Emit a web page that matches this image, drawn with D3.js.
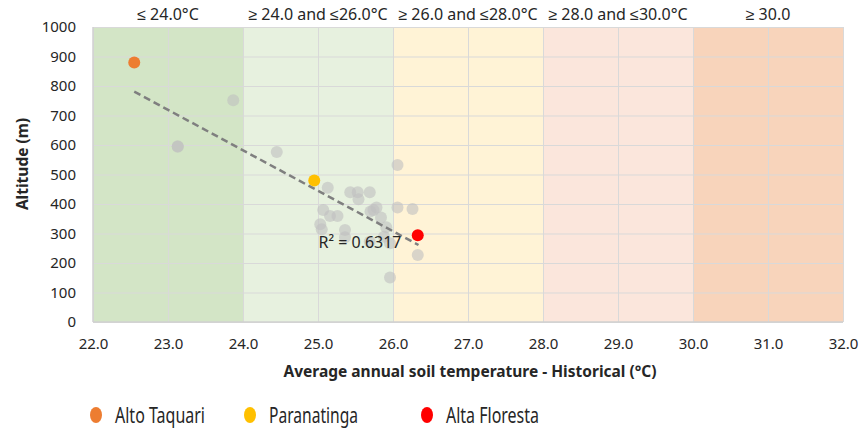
<!DOCTYPE html>
<html>
<head>
<meta charset="utf-8">
<script src="https://cdn.jsdelivr.net/npm/d3@7"></script>
<style>
  body { margin: 0; background: #fff; }
  text { font-family: "Noto Sans", sans-serif; fill: #262626; }
</style>
</head>
<body>
<script>
// temperature bands across the plot
const bandStart = [22, 24, 26, 28, 30];
const bandEnd = [24, 26, 28, 30, 32];
const bandLabels = ["≤ 24.0°C", "≥ 24.0 and ≤26.0°C", "≥ 26.0 and ≤28.0°C", "≥ 28.0 and ≤30.0°C", "≥ 30.0"];
const bandColors = ["#d3e5c6", "#e7f1df", "#fff3d6", "#fbe6dc", "#f8d4bb"];

// other municipalities (grey)
const otherTemp = [23.13, 23.13, 23.87, 24.45, 26.06, 25.13, 25.43, 25.53, 25.69, 25.54, 25.78, 25.70, 25.74,
  26.06, 26.26, 25.07, 25.16, 25.26, 25.84, 25.03, 25.05, 25.36, 25.36, 25.91, 25.88, 25.69, 25.96, 26.33, 25.96];
const otherAlt = [596, 594, 752, 576, 532, 455, 440, 440, 440, 416, 388, 375, 380,
  388, 383, 380, 359, 359, 354, 331, 314, 312, 287, 321, 289, 272, 267, 227, 151];

// highlighted municipalities
const namedSites = ["Alto Taquari", "Paranatinga", "Alta Floresta"];
const namedTemp = [22.55, 24.95, 26.33];
const namedAlt = [880, 480, 294];
const namedColors = ["#ed7d31", "#ffc000", "#ff0000"];

// linear trend line ends
const trendTemp = [22.55, 26.34];
const trendAlt = [781, 261];

const xTicks = [22, 23, 24, 25, 26, 27, 28, 29, 30, 31, 32];
const yTicks = [0, 100, 200, 300, 400, 500, 600, 700, 800, 900, 1000];

const svg = d3.select("body").append("svg")
    .attr("width", 860)
    .attr("height", 430);

const x = d3.scaleLinear().domain([22, 32]).range([93, 843]);
const y = d3.scaleLinear().domain([0, 1000]).range([322, 27]);

// bands
svg.selectAll("rect.band")
  .data(bandStart)
  .enter()
    .append("rect")
    .attr("class", "band")
    .attr("x", d => x(d))
    .attr("y", y(1000))
    .attr("width", (d, i) => x(bandEnd[i]) - x(d))
    .attr("height", y(0) - y(1000))
    .style("fill", (d, i) => bandColors[i]);

svg.selectAll("text.bandLabel")
  .data(bandLabels)
  .enter()
    .append("text")
    .attr("class", "bandLabel")
    .attr("x", (d, i) => x((bandStart[i] + bandEnd[i]) / 2))
    .attr("y", 20)
    .attr("text-anchor", "middle")
    .style("font-size", "16px")
    .text(d => d);

// grid
const yAxis = d3.axisLeft(y).tickValues(yTicks).tickFormat(d3.format("d"))
    .tickSize(-(x(32) - x(22))).tickPadding(17);
svg.append("g")
    .attr("class", "yAxis")
    .attr("transform", `translate(${x(22)}, 0)`)
    .call(yAxis);

const xAxis = d3.axisBottom(x).tickValues(xTicks).tickFormat(d3.format(".1f"))
    .tickSize(-(y(0) - y(1000))).tickPadding(16);
svg.append("g")
    .attr("class", "xAxis")
    .attr("transform", `translate(0, ${y(0)})`)
    .call(xAxis);

svg.selectAll(".tick line").style("stroke", "#d9d9d9").style("stroke-width", 1);
svg.selectAll(".domain").remove();
svg.selectAll(".tick text").style("font-size", "15px").style("fill", "#262626")
    .style("font-family", "'Noto Sans', sans-serif");

// plot frame
svg.append("line")
    .attr("x1", x(22)).attr("x2", x(22))
    .attr("y1", y(0)).attr("y2", y(1000))
    .style("stroke", "#d0d0d0").style("stroke-width", 1.5);
svg.append("line")
    .attr("x1", x(22)).attr("x2", x(32))
    .attr("y1", y(0)).attr("y2", y(0))
    .style("stroke", "#d0d0d0").style("stroke-width", 1.5);

// grey points
svg.selectAll("circle.other")
  .data(otherTemp)
  .enter()
    .append("circle")
    .attr("class", "other")
    .attr("cx", d => x(d))
    .attr("cy", (d, i) => y(otherAlt[i]))
    .attr("r", 6)
    .style("fill", "#bfbfbf")
    .style("opacity", 0.6);

// trend line
svg.append("line")
    .attr("x1", x(trendTemp[0])).attr("y1", y(trendAlt[0]))
    .attr("x2", x(trendTemp[1])).attr("y2", y(trendAlt[1]))
    .style("stroke", "#7f7f7f")
    .style("stroke-width", 2.5)
    .style("stroke-dasharray", "7,4");

svg.append("text")
    .attr("x", 360)
    .attr("y", 248)
    .attr("text-anchor", "middle")
    .style("font-size", "16px")
    .text("R² = 0.6317");

// named points
svg.selectAll("circle.named")
  .data(namedTemp)
  .enter()
    .append("circle")
    .attr("class", "named")
    .attr("cx", d => x(d))
    .attr("cy", (d, i) => y(namedAlt[i]))
    .attr("r", 6)
    .style("fill", (d, i) => namedColors[i]);

// axis titles
svg.append("text")
    .attr("x", 470)
    .attr("y", 377)
    .attr("text-anchor", "middle")
    .style("font-size", "15.5px")
    .style("font-weight", "bold")
    .text("Average annual soil temperature - Historical (°C)");

svg.append("text")
    .attr("transform", "translate(28, 164) rotate(-90)")
    .attr("text-anchor", "middle")
    .style("font-size", "15.5px")
    .style("font-weight", "bold")
    .text("Altitude (m)");

// legend
const legendX = [96, 250, 427];
const legendW = [90, 89, 93];
const legend = svg.selectAll("g.legend")
  .data(namedSites)
  .enter()
    .append("g")
    .attr("class", "legend")
    .attr("transform", (d, i) => `translate(${legendX[i]}, 415)`);

legend.append("ellipse")
    .attr("rx", 6).attr("ry", 8)
    .style("fill", (d, i) => namedColors[i]);

legend.append("text")
    .attr("x", 19)
    .attr("y", 8)
    .attr("textLength", (d, i) => legendW[i])
    .attr("lengthAdjust", "spacingAndGlyphs")
    .style("font-size", "21px")
    .text(d => d);
</script>
</body>
</html>
